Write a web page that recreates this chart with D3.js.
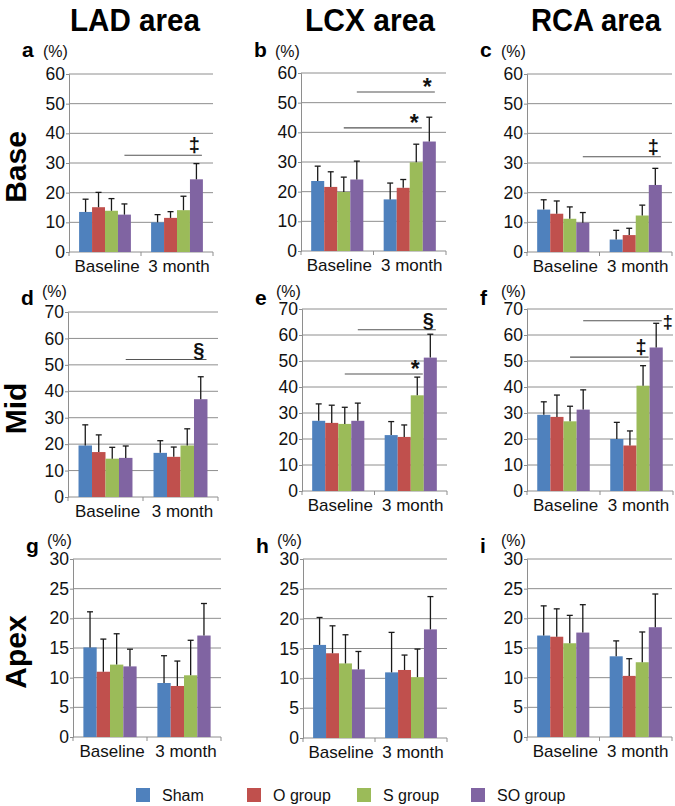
<!DOCTYPE html>
<html><head><meta charset="utf-8">
<script src="https://cdn.jsdelivr.net/npm/d3@7"></script>
<style>body{margin:0;background:#fff} svg{display:block;font-family:"Liberation Sans",Arial,Helvetica,sans-serif}</style>
</head><body><svg id="chart" width="675" height="806"></svg>
<script>
// ---------- data ----------
const timepoints = ["Baseline", "3 month"];
const groups = ["Sham", "O group", "S group", "SO group"];
const areas = ["LAD area", "LCX area", "RCA area"];
const levels = ["Base", "Mid", "Apex"];
const letters = ["a", "b", "c", "d", "e", "f", "g", "h", "i"];
const levelMax = [60, 70, 30];
const levelStep = [10, 10, 5];

// values: Sham, O, S, SO at Baseline, then Sham, O, S, SO at 3 month
const meanA = [13.5, 15.1, 13.9, 12.6, 10.0, 11.5, 14.1, 24.5];
const upperA = [17.8, 20.1, 18.0, 16.2, 12.6, 13.6, 18.8, 29.8];
const meanB = [23.6, 21.6, 19.9, 24.1, 17.4, 21.3, 29.9, 36.9];
const upperB = [28.6, 26.7, 24.9, 30.3, 22.9, 24.1, 36.0, 45.1];
const meanC = [14.3, 12.9, 11.2, 9.9, 4.2, 5.7, 12.3, 22.6];
const upperC = [17.6, 17.2, 15.2, 13.3, 7.3, 8.0, 15.8, 28.2];
const meanD = [19.5, 17.0, 14.5, 14.8, 16.7, 15.2, 19.5, 37.0];
const upperD = [27.3, 23.5, 18.8, 19.3, 21.3, 18.9, 25.8, 45.5];
const meanE = [27.0, 26.2, 25.8, 27.0, 21.5, 20.8, 36.8, 51.3];
const upperE = [33.5, 33.0, 32.2, 33.8, 26.7, 25.4, 43.8, 60.3];
const meanF = [29.3, 28.5, 26.8, 31.3, 20.0, 17.5, 40.5, 55.2];
const upperF = [34.3, 36.9, 32.6, 38.9, 26.4, 23.1, 48.2, 64.5];
const meanG = [15.1, 11.0, 12.2, 11.9, 9.1, 8.6, 10.4, 17.1];
const upperG = [21.1, 16.5, 17.4, 14.8, 13.7, 12.8, 16.3, 22.5];
const meanH = [15.6, 14.2, 12.5, 11.5, 11.0, 11.4, 10.2, 18.2];
const upperH = [20.2, 18.8, 17.3, 14.5, 17.7, 13.9, 14.9, 23.7];
const meanI = [17.1, 16.9, 15.8, 17.6, 13.6, 10.3, 12.6, 18.5];
const upperI = [22.1, 21.6, 20.5, 22.3, 16.2, 13.2, 17.7, 24.1];

// significance bars: from group (Baseline) to group (3 month), height, mark
const sigA = [{from: 3, to: 3, y: 32.6, mark: "‡"}];
const sigB = [{from: 3, to: 3, y: 53.6, mark: "*"}, {from: 2, to: 2, y: 41.5, mark: "*"}];
const sigC = [{from: 3, to: 3, y: 32.1, mark: "‡"}];
const sigD = [{from: 3, to: 3, y: 52.0, mark: "§"}];
const sigE = [{from: 3, to: 3, y: 62.0, mark: "§"}, {from: 2, to: 2, y: 45.0, mark: "*"}];
const sigF = [{from: 3, to: 3, y: 65.5, mark: "‡"}, {from: 2, to: 2, y: 51.5, mark: "‡"}];
const sigG = [], sigH = [], sigI = [];

const means = [meanA, meanB, meanC, meanD, meanE, meanF, meanG, meanH, meanI];
const uppers = [upperA, upperB, upperC, upperD, upperE, upperF, upperG, upperH, upperI];
const sigs = [sigA, sigB, sigC, sigD, sigE, sigF, sigG, sigH, sigI];

// ---------- style / layout ----------
const colors = ["#4F81BD", "#C0504D", "#9BBB59", "#8064A2"];
const plotRects = [ // left, top, right, bottom
  [69, 74, 213, 252], [301, 73, 446, 251], [527, 74, 672, 252],
  [68, 312, 218, 497], [302, 309, 447, 491], [527, 309, 673, 491],
  [73, 559, 221, 737], [303, 559, 447, 738], [527, 559, 672, 737]
];
const titleCenters = [135, 370, 596];
const rowUnitBase = [57, 297, 546];
const rowLetterBase = [57, 305, 553];
const gridColor = "#8e8e8e";

const svg = d3.select("#chart");

// column titles
areas.forEach((t, c) => {
  svg.append("text").attr("x", titleCenters[c]).attr("y", 31)
    .attr("text-anchor", "middle").attr("font-size", 31).attr("font-weight", "bold")
    .attr("textLength", 130).attr("lengthAdjust", "spacingAndGlyphs")
    .attr("fill", "#000").text(t);
});

// row titles
levels.forEach((t, r) => {
  const rc = plotRects[r * 3];
  const cy = (rc[1] + rc[3]) / 2 + 4;
  svg.append("text").attr("transform", `translate(26,${cy}) rotate(-90)`)
    .attr("text-anchor", "middle").attr("font-size", 30).attr("font-weight", "bold")
    .attr("fill", "#000").text(t);
});

means.forEach((mean, p) => {
  const row = Math.floor(p / 3);
  const [L, T, R, B] = plotRects[p];
  const g = svg.append("g");
  const x0 = d3.scaleBand().domain(timepoints).range([L, R]).padding(0);
  const x1 = d3.scaleBand().domain(groups).range([0, x0.bandwidth()]).paddingInner(0).paddingOuter(0.78);
  const y = d3.scaleLinear().domain([0, levelMax[row]]).range([B, T]);
  const ticks = d3.range(0, levelMax[row] + 0.001, levelStep[row]);

  // gridlines
  g.selectAll("line.grid").data(ticks.filter(t => t > 0)).join("line")
    .attr("x1", L).attr("x2", R).attr("y1", d => y(d)).attr("y2", d => y(d))
    .attr("stroke", gridColor).attr("stroke-width", 1);

  // y axis
  const ya = g.append("g").attr("transform", `translate(${L},0)`)
    .call(d3.axisLeft(y).tickValues(ticks).tickSize(3).tickPadding(1).tickFormat(d3.format("d")));
  ya.select(".domain").attr("stroke", gridColor);
  ya.selectAll(".tick line").attr("stroke", gridColor);
  ya.selectAll("text").attr("font-size", 17.5).attr("fill", "#111")
    .attr("font-family", "Liberation Sans, Arial, sans-serif");

  // x axis line + boundary ticks
  g.append("line").attr("x1", L).attr("x2", R).attr("y1", B).attr("y2", B).attr("stroke", gridColor);
  const bounds = [L, x0(timepoints[1]), R];
  g.selectAll("line.xt").data(bounds).join("line")
    .attr("x1", d => d).attr("x2", d => d).attr("y1", B).attr("y2", B + 4).attr("stroke", gridColor);
  g.selectAll("text.cat").data(timepoints).join("text")
    .attr("x", d => x0(d) + x0.bandwidth() / 2 + 2).attr("y", B + 20)
    .attr("text-anchor", "middle").attr("font-size", 17).attr("fill", "#111").text(d => d);

  // bars
  const items = [];
  timepoints.forEach((t, ti) => groups.forEach((gr, gi) => {
    items.push({t, gr, gi, v: mean[ti * 4 + gi], u: uppers[p][ti * 4 + gi]});
  }));
  g.selectAll("rect.bar").data(items).join("rect")
    .attr("x", d => x0(d.t) + x1(d.gr)).attr("width", x1.bandwidth())
    .attr("y", d => y(d.v)).attr("height", d => y(0) - y(d.v))
    .attr("fill", d => colors[d.gi]);

  // error bars (upper only)
  const cx = d => x0(d.t) + x1(d.gr) + x1.bandwidth() / 2;
  g.selectAll("line.err").data(items).join("line")
    .attr("x1", cx).attr("x2", cx).attr("y1", d => y(d.v)).attr("y2", d => y(d.u))
    .attr("stroke", "#1a1a1a").attr("stroke-width", 1.3);
  g.selectAll("line.cap").data(items).join("line")
    .attr("x1", d => cx(d) - 3).attr("x2", d => cx(d) + 3).attr("y1", d => y(d.u)).attr("y2", d => y(d.u))
    .attr("stroke", "#1a1a1a").attr("stroke-width", 1.3);

  // significance
  sigs[p].forEach(s => {
    const xs = x0(timepoints[0]) + x1(groups[s.from]) + x1.bandwidth() / 2;
    const xe = x0(timepoints[1]) + x1(groups[s.to]) + x1.bandwidth() - 1;
    const xc = x0(timepoints[1]) + x1(groups[s.to]) + x1.bandwidth() / 2;
    g.append("line").attr("x1", xs).attr("x2", xe).attr("y1", y(s.y)).attr("y2", y(s.y))
      .attr("stroke", "#555").attr("stroke-width", 1.1);
    const roomAbove = y(s.y) - T > 14;
    g.append("text")
      .attr("x", roomAbove ? xc - 2 : xe + 6)
      .attr("y", roomAbove ? y(s.y) - (s.mark === "*" ? -3 : 3) : y(s.y) + 7)
      .attr("text-anchor", "middle").attr("font-weight", "bold")
      .attr("font-size", s.mark === "*" ? 23 : (roomAbove ? 20 : 18)).attr("fill", "#111").text(s.mark);
  });

  // panel letter and unit
  svg.append("text").attr("x", L - 47).attr("y", rowLetterBase[row])
    .attr("font-size", 21).attr("font-weight", "bold").attr("fill", "#000").text(letters[p]);
  svg.append("text").attr("x", L - 26).attr("y", rowUnitBase[row])
    .attr("font-size", 16).attr("fill", "#111").text("(%)");
});

// legend
const legX = [136, 247, 357, 471];
const leg = svg.append("g");
groups.forEach((gname, i) => {
  leg.append("rect").attr("x", legX[i]).attr("y", 788).attr("width", 14).attr("height", 14).attr("fill", colors[i]);
  leg.append("text").attr("x", legX[i] + 26).attr("y", 801).attr("font-size", 16).attr("fill", "#111").text(gname);
});
</script></body></html>
